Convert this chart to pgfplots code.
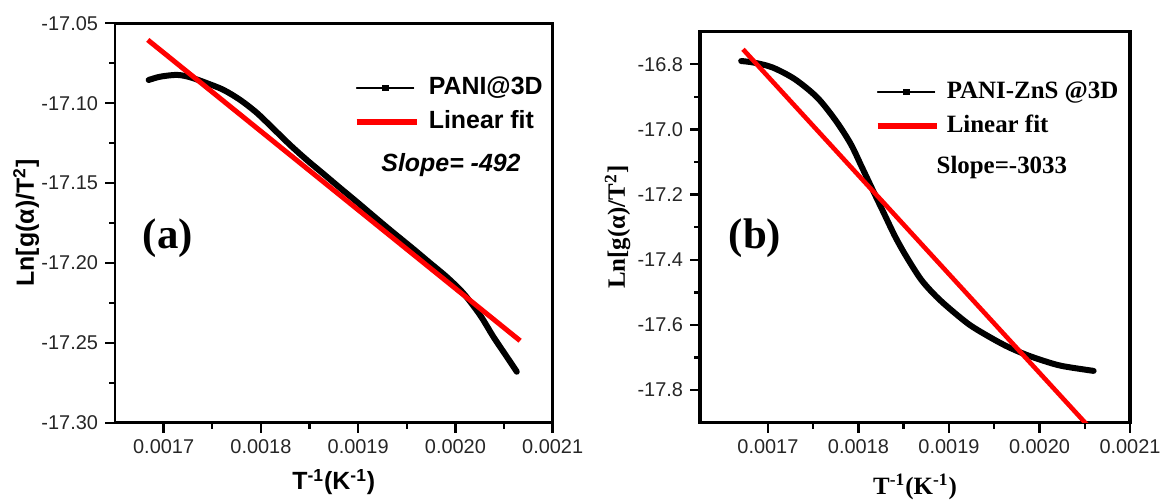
\documentclass[border=0pt]{standalone}
\usepackage{pgfplots}
\usepackage{pgfplotstable}
\pgfplotsset{compat=1.18}
\usepackage{fontspec}
\setmainfont{Liberation Sans}
\newfontfamily\timesfont{Liberation Serif}

% Ln[g(alpha)/T^2] against 1/T, PANI@3D
\pgfplotstableread{
x          y
0.0016846  -17.0855
0.0016966  -17.0834
0.0017138  -17.0823
0.0017274  -17.0838
0.0017446  -17.0875
0.0017616  -17.0917
0.0017788  -17.0980
0.0017959  -17.1061
0.0018130  -17.1161
0.0018301  -17.1262
0.0018473  -17.1356
0.0018644  -17.1443
0.0018815  -17.1531
0.0018987  -17.1618
0.0019157  -17.1706
0.0019329  -17.1794
0.0019568  -17.1913
0.0019740  -17.2001
0.0019911  -17.2088
0.0020082  -17.2190
0.0020253  -17.2326
0.0020390  -17.2462
0.0020528  -17.2587
0.0020631  -17.2681
}\panidata

% linear fit, slope -492
\pgfplotstableread{
x          y
0.0016837  -17.0604
0.0020665  -17.2487
}\panifit

% Ln[g(alpha)/T^2] against 1/T, PANI-ZnS@3D
\pgfplotstableread{
x          y
0.0016705  -16.790
0.0016848  -16.795
0.0017053  -16.810
0.0017299  -16.846
0.0017545  -16.902
0.0017750  -16.973
0.0017914  -17.044
0.0018037  -17.115
0.0018160  -17.187
0.0018283  -17.258
0.0018406  -17.329
0.0018529  -17.390
0.0018693  -17.461
0.0018857  -17.512
0.0019020  -17.553
0.0019225  -17.599
0.0019430  -17.634
0.0019635  -17.665
0.0019840  -17.690
0.0020045  -17.710
0.0020250  -17.726
0.0020598  -17.741
}\znsdata

% linear fit, slope -3033
\pgfplotstableread{
x          y
0.0016725  -16.754
0.0020600  -17.929
}\znsfit

\pgfplotsset{
  arrhenius/.style={
    scale only axis,
    anchor=south west,
    tick align=outside,
    xtick pos=bottom,
    ytick pos=left,
    major tick length=5bp,
    minor tick length=3bp,
    tick style={line width=1.2bp, black},
    minor tick num=1,
    scaled ticks=false,
    xtick={0.0017,0.0018,0.0019,0.0020,0.0021},
    xticklabels={0.0017,0.0018,0.0019,0.0020,0.0021},
    tick label style={font=\fontsize{10}{12}\selectfont, text=black!85},
    legend cell align=left,
  },
}

\begin{document}
\begin{tikzpicture}
\path[use as bounding box] (0,0) rectangle (581.5bp,252bp);

% ---------- (a) PANI@3D ----------
\begin{axis}[arrhenius,
  at={(57.5bp,40.65bp)}, width=218.85bp, height=199.7bp,
  axis line style={line width=1.3bp},
  xmin=0.00165, xmax=0.0021, ymin=-17.30, ymax=-17.05,
  ytick={-17.30,-17.25,-17.20,-17.15,-17.10,-17.05},
  yticklabels={-17.30,-17.25,-17.20,-17.15,-17.10,-17.05},
  xlabel={T\textsuperscript{-1}(K\textsuperscript{-1})},
  ylabel={Ln[g(α)/T\textsuperscript{2}]},
  label style={font=\bfseries\fontsize{12.5}{14}\selectfont},
  xlabel style={at={(rel axis cs:0.5,-0.1485)}, anchor=center},
  ylabel style={at={(rel axis cs:-0.203,0.5)}, anchor=center},
  legend style={draw=none, fill=none, at={(rel axis cs:0.5438,0.7954)}, anchor=west,
    inner sep=0pt, row sep=5.5bp, column sep=4.5bp,
    font=\bfseries\fontsize{12.5}{14}\selectfont,
    nodes={inner sep=0pt, text height=9bp, text depth=2.5bp}},
]
\addplot[black, line width=3bp, line cap=round, smooth,
  legend image code/.code={
    \draw[black, line width=0.6bp, mark=square*, mark size=1.4bp, mark repeat=2, mark phase=2]
      plot coordinates {(0bp,0bp) (14.25bp,0bp) (28.5bp,0bp)};}]
  table[x=x, y=y] {\panidata};
\addlegendentry{PANI@3D}
\addplot[red, line width=2.5bp,
  legend image code/.code={\draw[red, line width=3.2bp] (0bp,0bp) -- (30bp,0bp);}]
  table[x=x, y=y] {\panifit};
\addlegendentry{Linear fit}
\node[font=\bfseries\itshape\fontsize{12.5}{14}\selectfont] at (rel axis cs:0.7677,0.645) {Slope= -492};
\node[font=\timesfont\bfseries\fontsize{21.5}{24}\selectfont] at (rel axis cs:0.121,0.4624) {(a)};
\end{axis}

% ---------- (b) PANI-ZnS@3D ----------
\begin{axis}[arrhenius,
  at={(350bp,40.65bp)}, width=215bp, height=195.5bp,
  axis line style={line width=1.6bp},
  xmin=0.001625, xmax=0.0021, ymin=-17.9, ymax=-16.7,
  ytick={-17.8,-17.6,-17.4,-17.2,-17.0,-16.8},
  yticklabels={-17.8,-17.6,-17.4,-17.2,-17.0,-16.8},
  xlabel={T\textsuperscript{-1}(K\textsuperscript{-1})},
  ylabel={Ln[g(α)/T\textsuperscript{2}]},
  label style={font=\timesfont\bfseries\fontsize{12.5}{14}\selectfont},
  xlabel style={at={(rel axis cs:0.5,-0.1645)}, anchor=center},
  ylabel style={at={(rel axis cs:-0.1916,0.5)}, anchor=center},
  legend style={draw=none, fill=none, at={(rel axis cs:0.4047,0.8023)}, anchor=west,
    inner sep=0pt, row sep=5.5bp, column sep=3.5bp,
    font=\timesfont\bfseries\fontsize{12.5}{14}\selectfont,
    nodes={inner sep=0pt, text height=9bp, text depth=2.5bp}},
]
\addplot[black, line width=3bp, line cap=round, smooth,
  legend image code/.code={
    \draw[black, line width=0.6bp, mark=square*, mark size=1.4bp, mark repeat=2, mark phase=2]
      plot coordinates {(0bp,0bp) (14.25bp,0bp) (28.5bp,0bp)};}]
  table[x=x, y=y] {\znsdata};
\addlegendentry{PANI-ZnS @3D}
\addplot[red, line width=2.3bp,
  legend image code/.code={\draw[red, line width=3.2bp] (0bp,0bp) -- (29.5bp,0bp);}]
  table[x=x, y=y] {\znsfit};
\addlegendentry{Linear fit}
\node[font=\timesfont\bfseries\fontsize{12.5}{14}\selectfont] at (rel axis cs:0.702,0.6514) {Slope=-3033};
\node[font=\timesfont\bfseries\fontsize{21.5}{24}\selectfont] at (rel axis cs:0.128,0.4724) {(b)};
\end{axis}
\end{tikzpicture}
\end{document}
